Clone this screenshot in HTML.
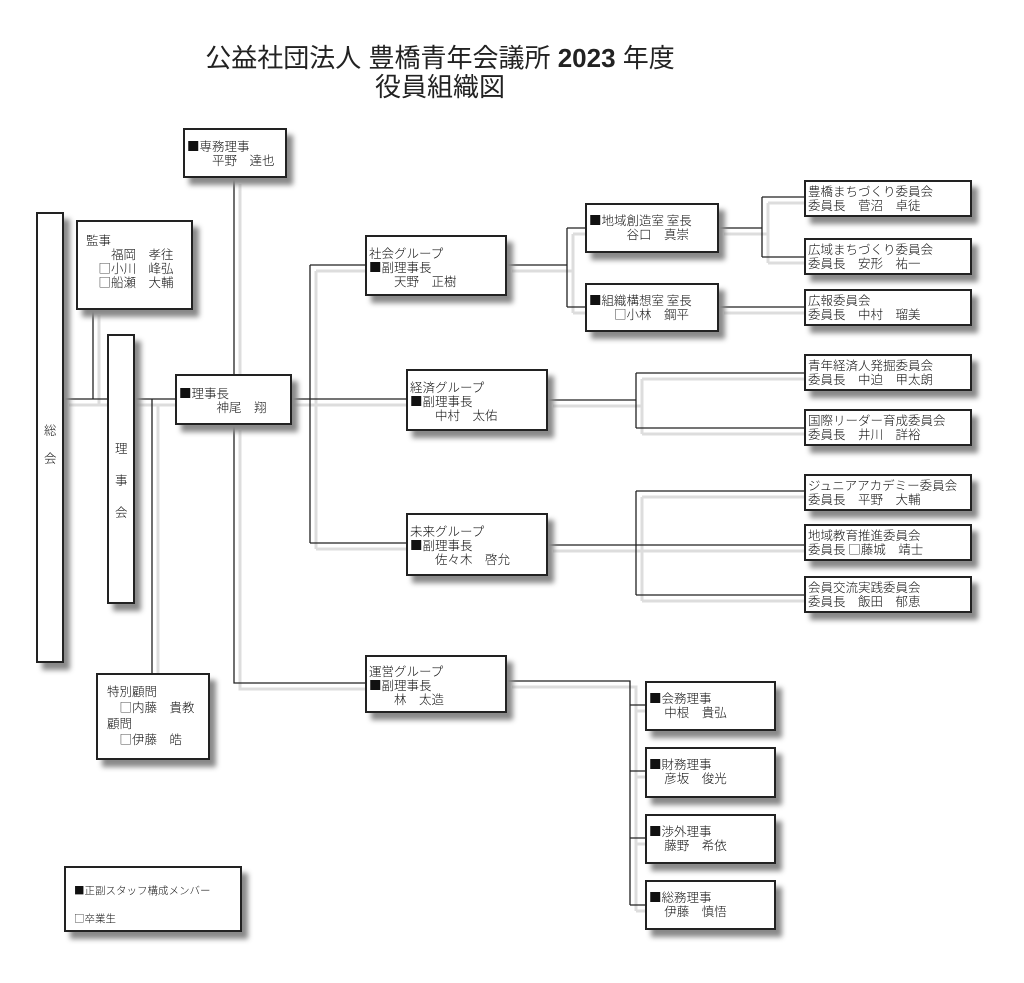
<!DOCTYPE html>
<html><head><meta charset="utf-8"><style>
body{margin:0;width:1024px;height:983px;background:#fff;position:relative;overflow:hidden;font-family:"Noto Sans CJK JP","Liberation Sans",sans-serif;color:#111}
.b{position:absolute;box-sizing:border-box;border:2px solid #222;background:#fff;box-shadow:6px 7px 5px #8a8a8a;font-size:12.5px;line-height:14px;padding:3px 2px;white-space:pre;font-weight:300}
.t{position:absolute;text-align:center;font-size:26px;line-height:28px;color:#222;font-family:"Liberation Sans","Noto Sans CJK JP",sans-serif}
svg{position:absolute;left:0;top:0}
</style></head><body>
<div class="t" style="left:140px;top:44px;width:600px">公益社団法人 豊橋青年会議所 <b>2023</b> 年度</div>
<div class="t" style="left:140px;top:73px;width:600px">役員組織図</div>
<svg width="1024" height="983">
<g fill="none" stroke="#ddd" stroke-width="3" transform="translate(6,6)">
<path d="M63 399H291M93 309V399M152 399V673M234 178V374M234 424V683H365M291 399H406M310 265V543M310 265H365M310 543H406M506 265H567M567 228V307M567 228H585M567 307H585M718 228H762M762 197V257M762 197H804M762 257H804M718 307H804M547 400H636M636 373V428M636 373H804M636 428H804M547 545H804M636 491V595M636 491H804M636 595H804M506 681H630V905M630 705H645M630 771H645M630 838H645M630 905H645"/>
</g>
<g fill="none" stroke="#222" stroke-width="1.3">
<path d="M63 399H291M93 309V399M152 399V673M234 178V374M234 424V683H365M291 399H406M310 265V543M310 265H365M310 543H406M506 265H567M567 228V307M567 228H585M567 307H585M718 228H762M762 197V257M762 197H804M762 257H804M718 307H804M547 400H636M636 373V428M636 373H804M636 428H804M547 545H804M636 491V595M636 491H804M636 595H804M506 681H630V905M630 705H645M630 771H645M630 838H645M630 905H645"/>
</g>
</svg>
<div class="b" style="left:183px;top:128px;width:104px;height:50px;padding-top:9px">■専務理事
　　平野　達也</div>
<div class="b" style="left:36px;top:212px;width:28px;height:451px;padding:202px 0 0 6px;line-height:28px">総
会</div>
<div class="b" style="left:76px;top:220px;width:117px;height:90px;padding:11px 8px">監事
　　福岡　孝往
　□小川　峰弘
　□船瀬　大輔</div>
<div class="b" style="left:107px;top:334px;width:28px;height:270px;padding:96px 0 0 6px;line-height:32px">理
事
会</div>
<div class="b" style="left:175px;top:374px;width:117px;height:51px;padding-top:10px">■理事長
　　　神尾　翔</div>
<div class="b" style="left:365px;top:235px;width:142px;height:61px;padding-top:9px">社会グループ
■副理事長
　　天野　正樹</div>
<div class="b" style="left:406px;top:369px;width:142px;height:62px;padding-top:9px">経済グループ
■副理事長
　　中村　太佑</div>
<div class="b" style="left:406px;top:513px;width:142px;height:63px;padding-top:9px">未来グループ
■副理事長
　　佐々木　啓允</div>
<div class="b" style="left:365px;top:655px;width:142px;height:58px;padding-top:7px">運営グループ
■副理事長
　　林　太造</div>
<div class="b" style="left:585px;top:203px;width:134px;height:50px;padding-top:8px">■地域創造室 室長
　　　谷口　真崇</div>
<div class="b" style="left:585px;top:283px;width:134px;height:49px;padding-top:8px">■組織構想室 室長
　　□小林　鋼平</div>
<div class="b" style="left:804px;top:180px;width:168px;height:37px;padding-top:2px">豊橋まちづくり委員会
委員長　菅沼　卓徒</div>
<div class="b" style="left:804px;top:238px;width:168px;height:37px;padding-top:2px">広域まちづくり委員会
委員長　安形　祐一</div>
<div class="b" style="left:804px;top:289px;width:168px;height:37px;padding-top:2px">広報委員会
委員長　中村　瑠美</div>
<div class="b" style="left:804px;top:354px;width:168px;height:37px;padding-top:2px">青年経済人発掘委員会
委員長　中迫　甲太朗</div>
<div class="b" style="left:804px;top:409px;width:168px;height:37px;padding-top:2px">国際リーダー育成委員会
委員長　井川　詳裕</div>
<div class="b" style="left:804px;top:474px;width:168px;height:37px;padding-top:2px">ジュニアアカデミー委員会
委員長　平野　大輔</div>
<div class="b" style="left:804px;top:524px;width:168px;height:37px;padding-top:2px">地域教育推進委員会
委員長 □藤城　靖士</div>
<div class="b" style="left:804px;top:576px;width:168px;height:37px;padding-top:2px">会員交流実践委員会
委員長　飯田　郁恵</div>
<div class="b" style="left:645px;top:681px;width:131px;height:50px;padding-top:8px">■会務理事
　 中根　貴弘</div>
<div class="b" style="left:645px;top:747px;width:131px;height:51px;padding-top:8px">■財務理事
　 彦坂　俊光</div>
<div class="b" style="left:645px;top:814px;width:131px;height:50px;padding-top:8px">■渉外理事
　 藤野　希依</div>
<div class="b" style="left:645px;top:880px;width:131px;height:50px;padding-top:8px">■総務理事
　 伊藤　慎悟</div>
<div class="b" style="left:96px;top:673px;width:114px;height:87px;padding:8px 9px;line-height:16px">特別顧問
　□内藤　貴教
顧問
　□伊藤　皓</div>
<div class="b" style="left:64px;top:866px;width:178px;height:66px;padding:9px 8px;font-size:10.5px;line-height:28px">■正副スタッフ構成メンバー
□卒業生</div>
</body></html>
